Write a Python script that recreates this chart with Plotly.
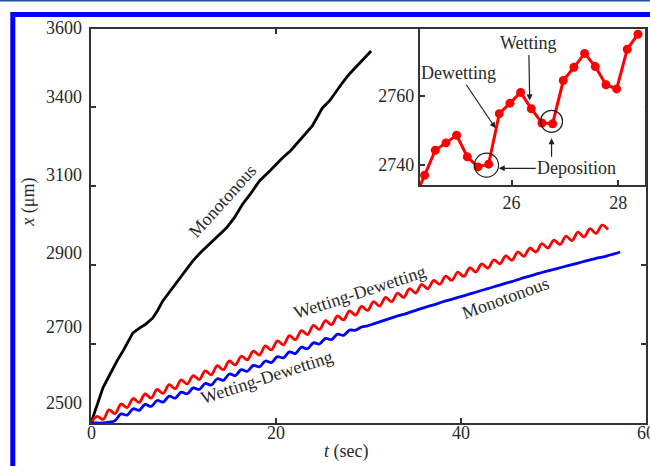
import plotly.graph_objects as go

# ---------------- data ----------------
# Monotonous (black) trajectory: time (s) and position (um)
t_black = [0, 0.3, 0.61, 1.0, 1.29, 1.8, 2.37, 2.9, 3.45, 4.0, 4.53, 5.28, 5.9, 6.68, 7.2,
           7.76, 8.84, 9.9, 10.99, 11.9, 12.82, 13.7, 14.66, 15.5, 16.38, 17.3, 18.21, 19.4,
           20.69, 21.6, 22.52, 23.2, 23.92, 24.5, 25.0, 25.8, 26.51, 27.2, 27.91, 28.6, 29.3, 30.28]
x_black = [2500, 2520, 2539, 2565, 2589, 2612, 2639, 2661, 2682, 2705, 2728, 2741, 2750, 2766, 2785,
           2809, 2842, 2874, 2910, 2933, 2953, 2972, 2994, 3020, 3054, 3082, 3113, 3140,
           3171, 3190, 3214, 3232, 3252, 3276, 3297, 3316, 3340, 3362, 3383, 3400, 3418, 3442]

# Wetting-Dewetting (red), sampled every 0.65 s from t = 0
red_t0 = 0.0
red_dt = 0.65
x_red = [2500, 2517, 2509, 2533, 2524, 2548, 2539, 2562, 2552, 2574, 2563, 2585, 2575, 2597, 2587,
         2609, 2599, 2620, 2610, 2632, 2622, 2645, 2635, 2657, 2647, 2669, 2660, 2682, 2672, 2695,
         2685, 2708, 2698, 2721, 2711, 2734, 2724, 2747, 2737, 2759, 2749, 2771, 2761, 2784, 2773,
         2795, 2785, 2807, 2796, 2818, 2807, 2829, 2818, 2840, 2829, 2851, 2840, 2861, 2851, 2872,
         2861, 2882, 2871, 2893, 2882, 2903, 2892, 2913, 2903, 2923, 2912, 2933, 2922, 2943, 2933,
         2954, 2943, 2963, 2952, 2973, 2962, 2983, 2971, 2992, 2980, 3001, 2990]

# Wetting-Dewetting then Monotonous (blue), sampled every 0.65 s from t = 0
blue_t0 = 0.0
blue_dt = 0.65
x_blue = [2500, 2500, 2500, 2502, 2506, 2523, 2520, 2536, 2532, 2547, 2542, 2557, 2553, 2568, 2563,
          2578, 2574, 2589, 2585, 2600, 2596, 2612, 2608, 2624, 2620, 2635, 2631, 2646, 2642, 2657,
          2653, 2668, 2665, 2680, 2676, 2692, 2688, 2703, 2700, 2714, 2711, 2725, 2722, 2735, 2735,
          2743, 2746, 2751, 2756, 2761, 2766, 2771, 2775, 2780, 2785, 2790, 2795, 2799, 2804, 2809,
          2813, 2818, 2822, 2827, 2831, 2836, 2840, 2845, 2849, 2854, 2858, 2863, 2868, 2872, 2877,
          2881, 2885, 2889, 2893, 2897, 2901, 2905, 2909, 2913, 2917, 2920, 2924, 2928, 2933]

# Inset: red trajectory sampled every 0.2 s
inset_t0 = 24.17
inset_dt = 0.2
x_inset = [2730, 2737.1, 2744.3, 2746.4, 2748.6, 2742.4, 2739.5, 2740.3, 2754.8, 2757.8, 2760.9,
           2756.2, 2752.1, 2751.9, 2764.3, 2768.1, 2772.1, 2768.3, 2763.1, 2761.9, 2773.3, 2777.6]

# tick values / labels
x_main_ticks = [0, 20, 40, 60]
x_main_labels = ["0", "20", "40", "60"]
y_main_ticks = [2700, 2900, 3100, 3300]
y_main_labels = ["3600", "3400", "3100", "2900", "2700", "2500"]
x_inset_ticks = [26, 28]
y_inset_ticks = [2740, 2760]

# ---------------- figure ----------------
FONT = "Liberation Serif"
AX = "#333333"
TXT = "#2a2a2a"

fig = go.Figure()
fig.add_trace(go.Scatter(x=t_black, y=x_black, mode="lines",
                         line=dict(color="#000000", width=2.8), xaxis="x", yaxis="y"))
fig.add_trace(go.Scatter(x0=red_t0, dx=red_dt, y=x_red, mode="lines",
                         line=dict(color="#ff0000", width=2.8, shape="spline", smoothing=1),
                         xaxis="x", yaxis="y"))
fig.add_trace(go.Scatter(x0=blue_t0, dx=blue_dt, y=x_blue, mode="lines",
                         line=dict(color="#0000ff", width=2.8, shape="spline", smoothing=1),
                         xaxis="x", yaxis="y"))
fig.add_trace(go.Scatter(x0=inset_t0, dx=inset_dt, y=x_inset, mode="lines+markers",
                         line=dict(color="#ff0000", width=3),
                         marker=dict(color="#ff0000", size=9),
                         xaxis="x2", yaxis="y2"))

axis_common = dict(showline=True, linecolor=AX, linewidth=2, ticks="inside", ticklen=5,
                   tickcolor=AX, tickwidth=2, showgrid=False, zeroline=False,
                   tickfont=dict(family=FONT, size=18, color=TXT))

fig.update_layout(
    width=650, height=466,
    margin=dict(l=91, r=2, t=29, b=43),
    paper_bgcolor="white", plot_bgcolor="white",
    showlegend=False,
    font=dict(family=FONT, size=18, color=TXT),
    xaxis=dict(domain=[0, 1], range=[0, 60], tickvals=x_main_ticks,
               showticklabels=False, mirror="ticks", anchor="y", **axis_common),
    yaxis=dict(domain=[0, 1], range=[2500, 3497.5], tickvals=y_main_ticks,
               showticklabels=False, mirror="ticks", anchor="x", **axis_common),
    xaxis2=dict(domain=[0.5925, 0.998], range=[24.28, 28.5], tickvals=x_inset_ticks,
                mirror=True, anchor="y2", **axis_common),
    yaxis2=dict(domain=[0.604, 1.0], range=[2734.3, 2779.1], tickvals=y_inset_ticks,
                mirror=True, anchor="x2", **axis_common),
)

annotations = []
# main x tick labels (as annotations so the last one may run off the page edge)
for xv, txt in zip(x_main_ticks, x_main_labels):
    annotations.append(dict(x=xv, xref="x", y=-0.0254, yref="paper", text=txt,
                            showarrow=False, xanchor="center", yanchor="middle",
                            font=dict(family=FONT, size=18, color=TXT)))

# main y tick labels (placed slightly above their tick marks, as in the original)
label_pos = [1.0025, 0.8274, 0.6294, 0.4315, 0.2437, 0.0508]
for yv, txt in zip(label_pos, y_main_labels):
    annotations.append(dict(x=-0.0126, xref="paper", y=yv, yref="paper", text=txt,
                            showarrow=False, xanchor="right", yanchor="middle",
                            font=dict(family=FONT, size=18, color=TXT)))

# axis titles
annotations.append(dict(x=0.461, y=-0.0736, xref="paper", yref="paper",
                        text="<i>t</i> (sec)", showarrow=False, xanchor="center",
                        yanchor="middle", font=dict(family=FONT, size=18, color=TXT)))
annotations.append(dict(x=-0.113, y=0.56, xref="paper", yref="paper",
                        text="<i>x</i> (μm)", showarrow=False, textangle=-90,
                        xanchor="center", yanchor="middle",
                        font=dict(family=FONT, size=18, color=TXT)))

# curve labels
curve_labels = [
    ("Monotonous", 14.22, 3062, -48),
    ("Wetting-Dewetting", 29.09, 2831.6, -18),
    ("Wetting-Dewetting", 19.07, 2616.5, -18),
    ("Monotonous", 44.81, 2816.4, -20),
]
for txt, xv, yv, ang in curve_labels:
    annotations.append(dict(x=xv, y=yv, xref="x", yref="y", text=txt, showarrow=False,
                            textangle=ang, font=dict(family=FONT, size=18, color=TXT)))

# inset annotations with arrows
arrow_style = dict(showarrow=True, arrowhead=2, arrowsize=1, arrowwidth=1.2,
                   arrowcolor="#222222", font=dict(family=FONT, size=18, color=TXT))
annotations.append(dict(x=26.34, y=2758.6, xref="x2", yref="y2", text="Wetting",
                        ax=-1, ay=-57, **arrow_style))
annotations.append(dict(x=25.70, y=2750.6, xref="x2", yref="y2", text="Dewetting",
                        ax=-37, ay=-55, **arrow_style))
annotations.append(dict(x=25.76, y=2739.1, xref="x2", yref="y2", text="Deposition",
                        ax=78, ay=0, **arrow_style))
annotations.append(dict(x=26.75, y=2747.7, xref="x2", yref="y2", text="",
                        ax=0, ay=20, **arrow_style))
fig.update_layout(annotations=annotations)

# circles in inset
shapes = [
    dict(type="circle", xref="x2", yref="y2", xsizemode="pixel", ysizemode="pixel",
         xanchor=25.53, yanchor=2740.0, x0=-12, x1=12, y0=-12, y1=12,
         line=dict(color="#222222", width=1.2)),
    dict(type="circle", xref="x2", yref="y2", xsizemode="pixel", ysizemode="pixel",
         xanchor=26.75, yanchor=2752.6, x0=-11, x1=11, y0=-11, y1=11,
         line=dict(color="#222222", width=1.2)),
    # blue frame around the figure
    dict(type="rect", xref="paper", yref="paper", x0=-0.1409, x1=1.06, y0=-0.25, y1=1.0368,
         line=dict(color="#0000ff", width=5), fillcolor="rgba(0,0,0,0)", layer="below"),
    # thin dark-blue line at the very top
    dict(type="line", xref="paper", yref="paper", x0=-0.2, x1=1.1, y0=1.0723, y1=1.0723,
         line=dict(color="#1d4f9e", width=2)),
]
fig.update_layout(shapes=shapes)

fig.write_html("out.html")
